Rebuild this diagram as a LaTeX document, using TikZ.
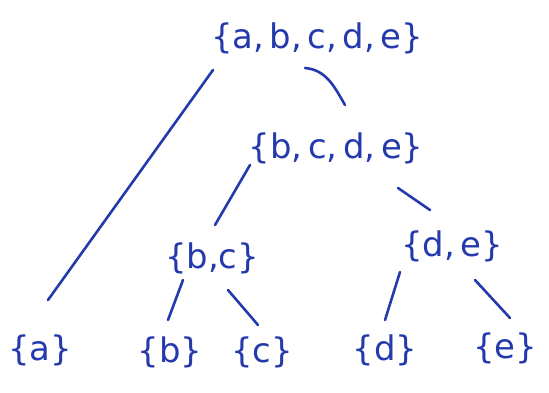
\documentclass[tikz,border=0pt]{standalone}
\usepackage{fontspec}
\setmainfont{DejaVu Sans}
\usetikzlibrary{calc}
\definecolor{ink}{RGB}{36,58,172}
\begin{document}
\begin{tikzpicture}[
    x=1bp, y=1bp,
    set/.style={text=ink, font=\fontsize{34}{38}\selectfont, inner sep=2pt},
    edge/.style={draw=ink, line width=2.6pt, line cap=round},
]
\useasboundingbox (0,0) rectangle (549,392);
% set nodes
\node[set] (abcde) at (317,354) {\{a,\,b,\,c,\,d,\,e\}};
\node[set] (bcde) at (336,244) {\{b,\,c,\,d,\,e\}};
\node[set] (bc) at (212,134) {\{b,c\}};
\node[set] (de) at (452,146) {\{d,\,e\}};
\node[set] (a) at (40,42) {\{a\}};
\node[set] (b) at (170,40) {\{b\}};
\node[set] (c) at (262,40) {\{c\}};
\node[set] (d) at (385,42) {\{d\}};
\node[set] (e) at (505,44) {\{e\}};

% connectors
\draw[edge] ($(abcde.center)+(-104,-32)$) -- ($(a.center)+(8,50)$);
\draw[edge] ($(abcde.center)+(-12,-30)$) to[out=-5, in=120] ($(bcde.center)+(9,43)$);
\draw[edge] ($(bcde.center)+(-86,-17)$) -- ($(bc.center)+(3,33)$);
\draw[edge] ($(bcde.center)+(62,-40)$) -- ($(de.center)+(-22,36)$);
\draw[edge] ($(bc.center)+(-29,-22)$) -- ($(b.center)+(-2,32)$);
\draw[edge] ($(bc.center)+(16,-32)$) -- ($(c.center)+(-4,27)$);
\draw[edge] ($(de.center)+(-52,-26)$) -- ($(d.center)+(0,30)$);
\draw[edge] ($(de.center)+(23,-34)$) -- ($(e.center)+(5,30)$);
\end{tikzpicture}
\end{document}
